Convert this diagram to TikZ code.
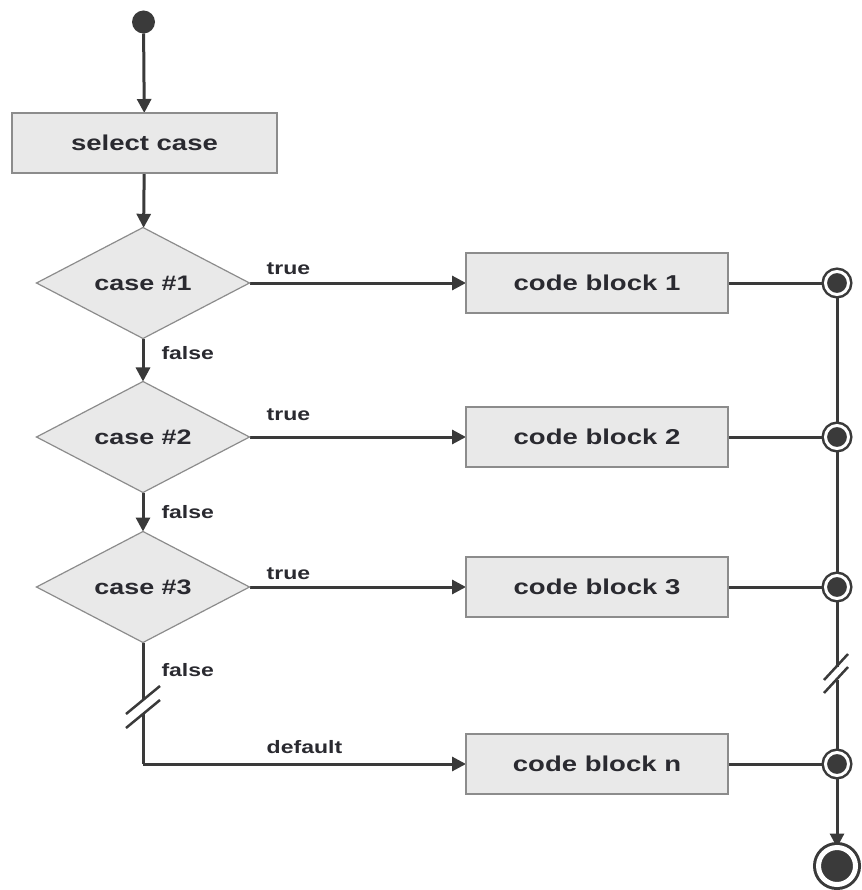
\documentclass[tikz,border=0pt]{standalone}
\usepackage{fontspec}
\setmainfont{Liberation Sans}[FakeStretch=1.28]
\usetikzlibrary{arrows.meta,shapes.geometric}
\pgfdeclarelayer{background}
\pgfsetlayers{background,main}
\definecolor{linegray}{HTML}{3A3A3A}
\definecolor{boxfill}{HTML}{E9E9E9}
\definecolor{boxline}{HTML}{8C8C8C}
\definecolor{textgray}{HTML}{2A2A30}
\tikzstyle{block}=[rectangle,draw=boxline,fill=boxfill,line width=1.2pt,minimum width=262pt,minimum height=60pt,inner sep=0pt,outer sep=0pt,text=textgray,font=\fontsize{21.5}{25}\selectfont\bfseries]
\tikzstyle{decision}=[diamond,aspect=1.92,draw=boxline,fill=boxfill,line width=1.2pt,minimum width=213pt,minimum height=111pt,inner sep=0pt,outer sep=0pt,text=textgray,font=\fontsize{21}{25}\selectfont\bfseries]
\tikzstyle{startdot}=[circle,fill=linegray,minimum size=23pt,inner sep=0pt,outer sep=0pt]
\tikzstyle{junction}=[circle,draw=linegray,double=white,double distance=3pt,line width=2.5pt,fill=linegray,minimum size=23pt,inner sep=0pt,outer sep=0pt]
\tikzstyle{stopnode}=[circle,draw=linegray,double=white,double distance=5pt,line width=3pt,fill=linegray,minimum size=37pt,inner sep=0pt,outer sep=0pt]
\tikzstyle{line}=[draw,linegray,line width=3pt]
\tikzstyle{edge}=[line,-{Triangle[length=14pt,width=14pt]}]
\tikzstyle{breakmark}=[draw,linegray,line width=2.5pt]
\tikzstyle{cond}=[font=\fontsize{18}{20}\selectfont\bfseries,text=textgray,inner sep=0pt]

\begin{document}
\begin{tikzpicture}[x=1pt,y=-1pt]
\useasboundingbox (0,0) rectangle (861,890);

% First we draw the start point, the select box and the cases
\node[startdot] (start) at (143.5,22) {};
\node[block,minimum width=265pt] (select) at (144.5,143) {select case};
\foreach \pos/\name/\txt in {{(143,283)/c1/case \#1}, {(143,437)/c2/case \#2},
                             {(143,587)/c3/case \#3}}
  \node[decision] (\name) at \pos {\txt};

% Then the code blocks and the junctions on the right
\foreach \y/\name/\txt in {283/b1/1, 437/b2/2, 587/b3/3, 764/bn/n}
  \node[block] (\name) at (597,\y) {code block \txt};
\foreach \y/\name in {283/j1, 437/j2, 587/j3, 764/jn}
  \node[junction] (\name) at (837,\y) {};
\node[stopnode] (stop) at (837,866) {};

% Break points
\coordinate (lbrk1) at (143,700);
\coordinate (lbrk2) at (143,714);
\coordinate (corner) at (143,764);
\coordinate (rbrk1) at (837,667);
\coordinate (rbrk2) at (837,680);

\begin{pgfonlayer}{background}
  % Down the cases
  \path[edge] (start) -- (select);
  \path[edge] (select) -- (c1);
  \path[edge] (c1) -- node[cond,right=17pt,pos=0.35] {false} (c2);
  \path[edge] (c2) -- node[cond,right=17pt,pos=0.5] {false} (c3);
  \path[line] (c3) -- node[cond,right=17pt,pos=0.48] {false} (lbrk1);
  \path[line] (lbrk2) -- (corner);

  % Cases to code blocks
  \path[edge] (c1) -- node[cond,above=7pt,pos=0.18] {true} (b1);
  \path[edge] (c2) -- node[cond,above=15pt,pos=0.18] {true} (b2);
  \path[edge] (c3) -- node[cond,above=6pt,pos=0.18] {true} (b3);
  \path[edge] (corner) -- node[cond,above=9pt,pos=0.5] {default} (bn);

  % Code blocks to the end
  \foreach \source/\dest in {b1/j1, b2/j2, b3/j3, bn/jn}
    \path[line] (\source) -- (\dest);
  \path[line] (j1) -- (j2) -- (j3) -- (rbrk1);
  \path[line] (rbrk2) -- (jn);
  \path[edge] (jn) -- (stop);
\end{pgfonlayer}

% Break marks
\draw[breakmark] (lbrk1) ++(17,-14) -- ++(-34,28);
\draw[breakmark] (lbrk2) ++(17,-14) -- ++(-34,28);
\draw[breakmark] (rbrk1) ++(11,-13) -- ++(-24,26);
\draw[breakmark] (rbrk2) ++(11,-13) -- ++(-24,26);
\end{tikzpicture}
\end{document}
